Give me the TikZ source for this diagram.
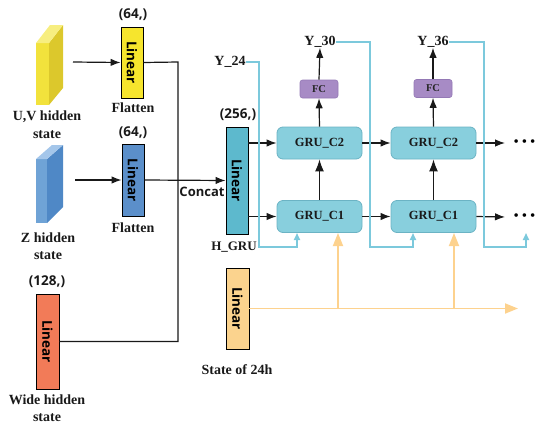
\documentclass[tikz,border=0pt]{standalone}
\usepackage{graphicx}
\usepackage{fontspec}
\setmainfont{Liberation Serif}
\newfontfamily\osans{Open Sans}
\usetikzlibrary{arrows.meta}
\definecolor{yfront}{HTML}{F2E23C}
\definecolor{yside}{HTML}{DCC82C}
\definecolor{ytop}{HTML}{F7EE80}
\definecolor{bfront}{HTML}{6FA3D6}
\definecolor{bside}{HTML}{4F88C6}
\definecolor{btop}{HTML}{A4C6EA}
\definecolor{linY}{HTML}{F6E52D}
\definecolor{linB}{HTML}{5B8FCA}
\definecolor{linR}{HTML}{F27B58}
\definecolor{linT}{HTML}{5DB9CD}
\definecolor{linO}{HTML}{FBD38E}
\definecolor{gruF}{HTML}{88CFDD}
\definecolor{gruD}{HTML}{6BB3C4}
\definecolor{fcF}{HTML}{A78BC5}
\definecolor{fcD}{HTML}{9479B5}
\definecolor{tealL}{HTML}{7CC9DC}
\definecolor{orL}{HTML}{FDD28E}
\begin{document}
\begin{tikzpicture}[x=1pt,y=-1pt,
  lin/.style={draw=black, line width=0.9pt, inner sep=0pt, font=\osans\bfseries\fontsize{13.5}{14}\selectfont},
  gru/.style={draw=gruD, fill=gruF, line width=0.8pt, rounded corners=6pt, minimum width=85, minimum height=32, inner sep=0pt, font=\bfseries\fontsize{12.5}{13}\selectfont, text=black!90},
  fc/.style={draw=fcD, fill=fcF, line width=0.6pt, rounded corners=2.5pt, minimum width=38, minimum height=18, inner sep=0pt, font=\bfseries\fontsize{10.5}{11}\selectfont, text=black!85},
  lbl/.style={inner sep=0pt, font=\bfseries\fontsize{14}{15}\selectfont, text=black!90},
  dim/.style={inner sep=0pt, font=\osans\bfseries\fontsize{13.5}{14}\selectfont, text=black!90},
  blk/.style={line width=1.2pt, draw=black!90, -{Latex[length=10pt,width=7.5pt]}},
  tl/.style={line width=1.6pt, draw=tealL},
  tla/.style={tl, -{Triangle[length=7pt,width=6pt]}},
  ol/.style={line width=1.8pt, draw=orL},
  ola/.style={ol, -{Triangle[length=13pt,width=10pt]}},
  dots/.style={inner sep=0pt, font=\fontsize{15}{15}\selectfont}
]
\useasboundingbox (0,0) rectangle (550,432);

% prisms
\fill[yfront] (36,43) -- (49,43) -- (49,105) -- (36,105) -- cycle;
\fill[yside] (49,43) -- (63,25) -- (63,88) -- (49,105) -- cycle;
\fill[ytop] (36,43) -- (50,25) -- (63,25) -- (49,43) -- cycle;
\fill[bfront] (36,159) -- (47,159) -- (47,223) -- (36,223) -- cycle;
\fill[bside] (47,159) -- (63,145) -- (63,207) -- (47,223) -- cycle;
\fill[btop] (36,159) -- (52,145) -- (63,145) -- (47,159) -- cycle;

% linear boxes
\node[lin, fill=linY, minimum width=22, minimum height=71] (L1) at (132,62.5) {\rotatebox{-90}{Linear}};
\node[lin, fill=linB, minimum width=22, minimum height=72] (L2) at (133,180) {\rotatebox{-90}{Linear}};
\node[lin, fill=linR, minimum width=23, minimum height=95] (L3) at (47.5,341.5) {\rotatebox{-90}{Linear}};
\node[lin, fill=linT, minimum width=22, minimum height=107] (L4) at (237,180.5) {\rotatebox{-90}{Linear}};
\node[lin, fill=linO, minimum width=23, minimum height=81] (L5) at (237.5,308.5) {\rotatebox{-90}{Linear}};

% GRU cells
\node[gru] (C2a) at (319.5,143) {GRU\_C2};
\node[gru] (C1a) at (319.5,216.5) {GRU\_C1};
\node[gru] (C2b) at (433.5,143) {GRU\_C2};
\node[gru] (C1b) at (433.5,216.5) {GRU\_C1};
\node[fc] (FCa) at (319,89) {FC};
\node[fc] (FCb) at (433,88.5) {FC};

% labels
\node[dim] (d1) at (133,15) {(64,)};
\node[lbl] (f1) at (133,108) {Flatten};
\node[dim] (d2) at (133,133) {(64,)};
\node[lbl] (f2) at (133,228) {Flatten};
\node[dim] (d3) at (47,282) {(128,)};
\node[dim] (d4) at (238,115) {(256,)};
\node[lbl] (uv1) at (47,117) {U,V hidden};
\node[lbl] (uv2) at (47,135) {state};
\node[lbl] (z1) at (48,238) {Z hidden};
\node[lbl] (z2) at (48,256) {state};
\node[lbl] (w1) at (47,400) {Wide hidden};
\node[lbl] (w2) at (47,418) {state};
\node[inner sep=0pt, font=\osans\fontsize{13}{14}\selectfont\bfseries, text=black!90] (cc) at (202,192) {Concat};
\node[lbl, font=\bfseries\fontsize{13}{14}\selectfont] (hg) at (234,247) {H\_GRU};
\node[lbl] (s24) at (237,370) {State of 24h};
\node[lbl] (y24) at (230,62) {Y\_24};
\node[lbl] (y30) at (320,42) {Y\_30};
\node[lbl] (y36) at (433,42) {Y\_36};
\node[dots] (dt1) at (524.5,143) {\textbullet\hspace{3pt}\textbullet\hspace{3pt}\textbullet};
\node[dots] (dt2) at (524.5,217) {\textbullet\hspace{3pt}\textbullet\hspace{3pt}\textbullet};

% coordinates
\coordinate (p1) at (73,62);
\coordinate (p2) at (75,180);
\coordinate (jx) at (178,62);
\coordinate (e1) at (505,143);
\coordinate (e2) at (505,217);
\coordinate (oend) at (518,308.5);

% black connectors
\draw[blk] (p1) -- (L1.west);
\draw[blk] (p2) -- (L2.west);
\draw[line width=1.2pt, draw=black!90] (L1.east) -- (jx) |- (L3.east);
\draw[blk] (L2.east) -- (L4.west);
\draw[blk] (L4.east |- C2a.west) -- (C2a.west);
\draw[blk] (L4.east |- C1a.west) -- (C1a.west);
\draw[blk, -{Latex[length=12pt,width=9pt]}] (C1a.north) -- (C2a.south);
\draw[blk] (C2a.north) -- (FCa.south);
\draw[blk] (FCa.north) -- (y30.south);
\draw[blk, -{Latex[length=12pt,width=9pt]}] (C1b.north) -- (C2b.south);
\draw[blk] (C2b.north) -- (FCb.south);
\draw[blk] (FCb.north) -- (y36.south);
\draw[blk] (C2a.east) -- (C2b.west);
\draw[blk] (C1a.east) -- (C1b.west);
\draw[blk] (C2b.east) -- (e1);
\draw[blk] (C1b.east) -- (e2);

% teal feedback
\draw[tla] (y24.east) -- (259,62) -- (259,247) -- (297,247) -- (297,233);
\draw[tla] (y30.east) -- (370,42) -- (370,247) -- (413,247) -- (413,233);
\draw[tla] (y36.east) -- (484,42) -- (484,247) -- (526,247) -- (526,233);

% orange state
\draw[ola] (L5.east) -- (oend);
\draw[ola] (338,308.5) -- (338,233);
\draw[ola] (454,308.5) -- (454,233);
\end{tikzpicture}
\end{document}
